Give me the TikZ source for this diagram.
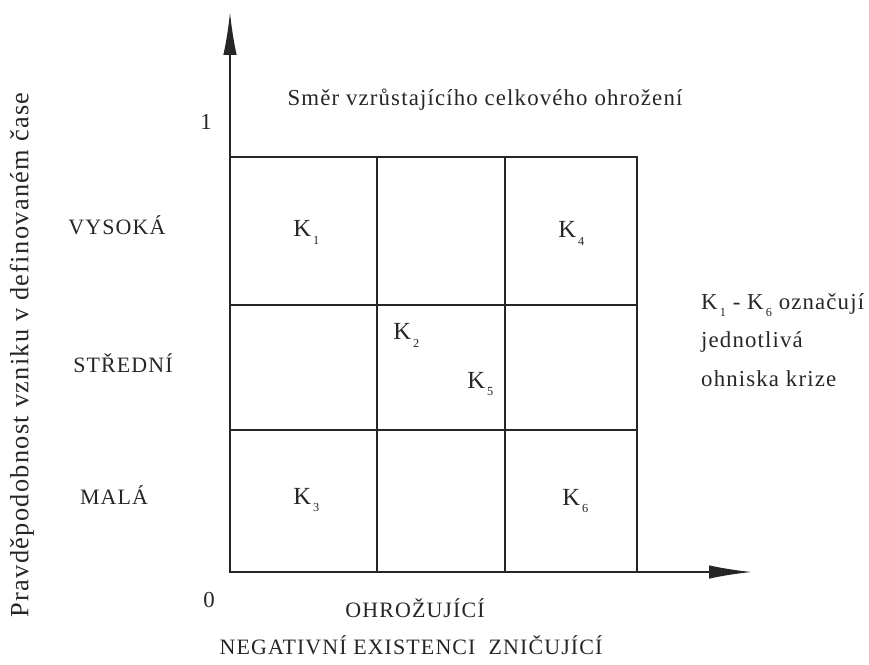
\documentclass[tikz,border=0pt]{standalone}
\usepackage{fontspec}
\setmainfont{Liberation Serif}[LetterSpace=5]
\usetikzlibrary{arrows.meta}

\newcommand{\kk}[1]{K\raisebox{-0.7ex}{\fontsize{7}{7}\selectfont\,#1}}

\begin{document}
\begin{tikzpicture}[
    x=0.02cm, y=-0.02cm,
    >={Latex[length=0.86cm,width=0.27cm]},
    axis/.style={->, line width=1.1pt, draw=black!85},
    cell/.style={line width=1.1pt, draw=black!85},
    level/.style={font=\fontsize{12.5}{15}\selectfont, text=black!85},
    tick/.style={font=\fontsize{13}{15}\selectfont, text=black!85},
    klabel/.style={anchor=west, inner sep=0pt, font=\fontsize{14}{16}\selectfont, text=black!85},
    note/.style={font=\fontsize{13}{22}\selectfont, align=left, text=black!85}
  ]
    \useasboundingbox (0,0) rectangle (869,664);

    % axes
    \coordinate (o) at (230,572);
    \coordinate (ytop) at (230,12);
    \coordinate (xend) at (752,572);
    \draw[axis] (o) -- (ytop);
    \draw[axis] (o) -- (xend);

    % grid
    \coordinate (tr) at (637,157);
    \draw[cell] (o) rectangle (tr);
    \draw[cell] (377,157) -- (377,572);
    \draw[cell] (505,157) -- (505,572);
    \draw[cell] (230,305) -- (637,305);
    \draw[cell] (230,430) -- (637,430);

    % axis labels
    \node[tick] (one) at (206,122) {1};
    \node[tick] (zero) at (209,600) {0};
    \node[level, rotate=90, font=\fontsize{15}{17}\selectfont] (prob) at (22,355)
      {Pravděpodobnost vzniku v definovaném čase};
    \node[level] (high) at (117,225) {VYSOKÁ};
    \node[level] (mid) at (123,363) {STŘEDNÍ};
    \node[level] (low) at (114,495) {MALÁ};
    \node[level] (threat) at (415,608) {OHROŽUJÍCÍ};
    \node[level] (kinds) at (411,645) {NEGATIVNÍ EXISTENCI\hspace{0.6em}ZNIČUJÍCÍ};

    % direction and legend
    \node[note] (dir) at (485,100) {Směr vzrůstajícího celkového ohrožení};
    \node[note, anchor=west] (legend) at (695,340)
      {\kk{1} - \kk{6} označují\\jednotlivá\\ohniska krize};

    % crisis foci
    \node[klabel] (k1) at (293,232) {\kk{1}};
    \node[klabel] (k2) at (393,335) {\kk{2}};
    \node[klabel] (k3) at (293,500) {\kk{3}};
    \node[klabel] (k4) at (558,233) {\kk{4}};
    \node[klabel] (k5) at (467,384) {\kk{5}};
    \node[klabel] (k6) at (562,501) {\kk{6}};
  \end{tikzpicture}
\end{document}
